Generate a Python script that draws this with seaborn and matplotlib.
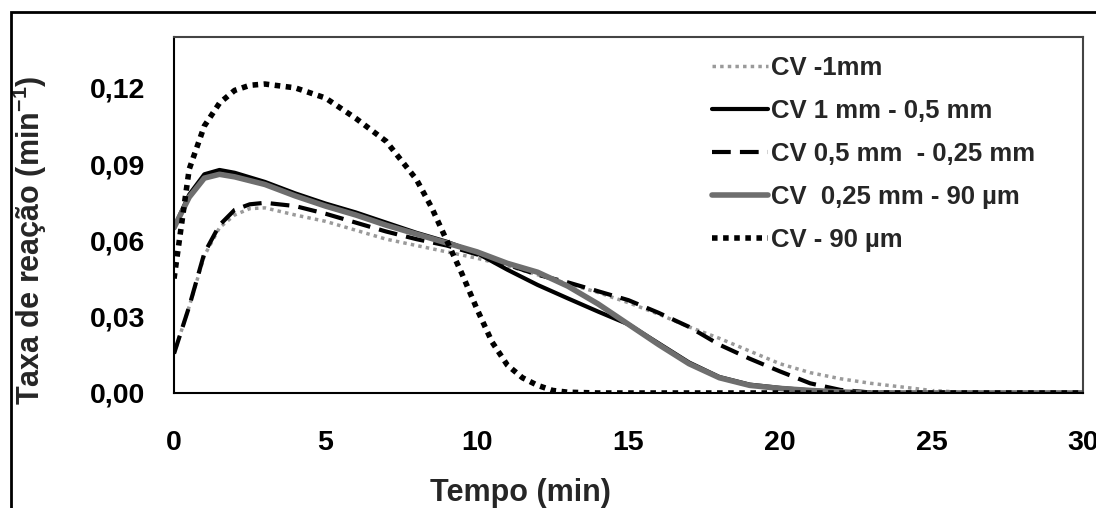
import numpy as np
import pandas as pd
import matplotlib.pyplot as plt
import seaborn as sns
from matplotlib.patches import Rectangle

# tempo (min) comum a quatro series
tempo = [0, 0.5, 1, 1.5, 2, 2.5, 3, 4, 5, 6, 7, 8, 9, 10, 11, 12, 13, 14, 15,
         16, 17, 18, 19, 20, 21, 22, 23, 24, 25, 26, 27, 28, 29, 30]

cv_1mm = [0.0155, 0.034, 0.054, 0.065, 0.070, 0.0725, 0.0728, 0.070, 0.0675, 0.064,
          0.0605, 0.058, 0.0555, 0.053, 0.050, 0.0465, 0.043, 0.0395, 0.0355, 0.031,
          0.026, 0.0215, 0.0165, 0.0115, 0.008, 0.0056, 0.0038, 0.0024, 0.001,
          0.0003, 0.0001, 0.0, 0.0, 0.0]
cv_1_05 = [0.065, 0.078, 0.086, 0.0877, 0.0866, 0.0848, 0.083, 0.0785, 0.0745, 0.071,
           0.067, 0.063, 0.0595, 0.055, 0.0485, 0.0425, 0.0372, 0.032, 0.027, 0.0195,
           0.012, 0.0063, 0.0033, 0.002, 0.001, 0.0004, 0.0, 0.0, 0.0,
           0.0, 0.0, 0.0, 0.0, 0.0]
cv_05_025 = [0.0155, 0.034, 0.055, 0.066, 0.072, 0.0742, 0.0748, 0.0735, 0.0705, 0.067,
             0.0635, 0.0605, 0.058, 0.0545, 0.0505, 0.0465, 0.0435, 0.040, 0.0365, 0.0315,
             0.026, 0.019, 0.0135, 0.0085, 0.0038, 0.0012, 0.0002, 0.0, 0.0,
             0.0, 0.0, 0.0, 0.0, 0.0]
cv_025_90 = [0.065, 0.077, 0.0845, 0.086, 0.085, 0.0835, 0.082, 0.0775, 0.0735, 0.070,
             0.066, 0.0625, 0.059, 0.0555, 0.051, 0.0475, 0.042, 0.035, 0.027, 0.019,
             0.0115, 0.006, 0.003, 0.0018, 0.001, 0.0004, 0.0, 0.0, 0.0,
             0.0, 0.0, 0.0, 0.0, 0.0]

tempo_90 = [0, 0.5, 1, 1.5, 2, 2.5, 3, 4, 5, 6, 7, 8, 8.5, 9, 9.5, 10, 10.5, 11,
            11.5, 12, 12.5, 13, 14, 16, 18, 20, 22, 24, 26, 28, 30]
cv_90 = [0.045, 0.088, 0.105, 0.114, 0.119, 0.121, 0.1215, 0.120, 0.116, 0.108,
         0.099, 0.084, 0.073, 0.060, 0.047, 0.033, 0.020, 0.011, 0.006, 0.003,
         0.001, 0.0003, 0.0, 0.0, 0.0, 0.0, 0.0, 0.0, 0.0, 0.0, 0.0]

labels = ['CV -1mm', 'CV 1 mm - 0,5 mm', 'CV 0,5 mm  - 0,25 mm',
          'CV  0,25 mm - 90 µm', 'CV - 90 µm']
x_ticks = [0, 5, 10, 15, 20, 25, 30]
y_ticks = [0.0, 0.03, 0.06, 0.09, 0.12]
y_tick_labels = ['0,00', '0,03', '0,06', '0,09', '0,12']

sns.set_style("white")
plt.rcParams['font.family'] = ['Liberation Sans', 'DejaVu Sans']
plt.rcParams['font.weight'] = 'bold'
plt.rcParams['mathtext.fontset'] = 'custom'
plt.rcParams['mathtext.rm'] = 'Liberation Sans:bold'
plt.rcParams['mathtext.bf'] = 'Liberation Sans:bold'

fig = plt.figure(figsize=(10.96, 5.08), dpi=100)
ax = fig.add_axes([0.1588, 0.2264, 0.8292, 0.7008])

df = pd.DataFrame({'t': tempo, 'a': cv_1mm, 'b': cv_1_05, 'c': cv_05_025, 'd': cv_025_90})
df90 = pd.DataFrame({'t': tempo_90, 'e': cv_90})

# ordem de desenho: cinza pontilhado por baixo
sns.lineplot(data=df, x='t', y='a', ax=ax, color='#9a9a9a', lw=2.5,
             linestyle=(0, (1, 1.2)), label=labels[0],
             marker='x', markevery=list(range(28, 34)), markersize=6, mew=1.2)
sns.lineplot(data=df, x='t', y='b', ax=ax, color='black', lw=3, label=labels[1])
sns.lineplot(data=df, x='t', y='c', ax=ax, color='black', lw=3,
             linestyle=(0, (4.5, 2.2)), label=labels[2])
sns.lineplot(data=df, x='t', y='d', ax=ax, color='#6e6e6e', lw=4, label=labels[3])
sns.lineplot(data=df90, x='t', y='e', ax=ax, color='black', lw=4,
             linestyle=(0, (1, 1)), label=labels[4])

ax.set_xlim(0, 30)
ax.set_ylim(0, 0.14)
ax.set_xticks(x_ticks)
ax.set_yticks(y_ticks)
ax.set_yticklabels(y_tick_labels)
ax.tick_params(axis='both', labelsize=20.5, direction='out', length=8, width=1.3,
               colors='black')
ax.tick_params(axis='x', pad=19)
ax.tick_params(axis='y', pad=13)
for lab in ax.get_xticklabels() + ax.get_yticklabels():
    lab.set_fontweight('bold')

for s in ['left', 'bottom']:
    ax.spines[s].set_color('black')
    ax.spines[s].set_linewidth(1.5)
for s in ['top', 'right']:
    ax.spines[s].set_color('#444444')
    ax.spines[s].set_linewidth(1.5)

ax.set_xlabel('Tempo (min)', fontsize=22, fontweight='bold')
ax.set_ylabel(r'Taxa de reação (min$^{-1}$)', fontsize=22, fontweight='bold')
ax.xaxis.set_label_coords(0.381, -0.24)
ax.yaxis.set_label_coords(-0.138, 0.43)

leg = ax.legend(loc='upper left', bbox_to_anchor=(0.572, 0.998), frameon=False,
                fontsize=18.5, handlelength=2.2, handletextpad=0.1,
                labelspacing=0.74, borderaxespad=0.3)
for t in leg.get_texts():
    t.set_fontweight('bold')
for h in leg.get_lines():
    h.set_marker('')

# moldura externa
fig.add_artist(Rectangle((11 / 1096, -0.1), 1.2, (508 - 12) / 508 + 0.1,
                         transform=fig.transFigure, fill=False, lw=2,
                         edgecolor='black'))

plt.savefig('out.png', dpi=100)
